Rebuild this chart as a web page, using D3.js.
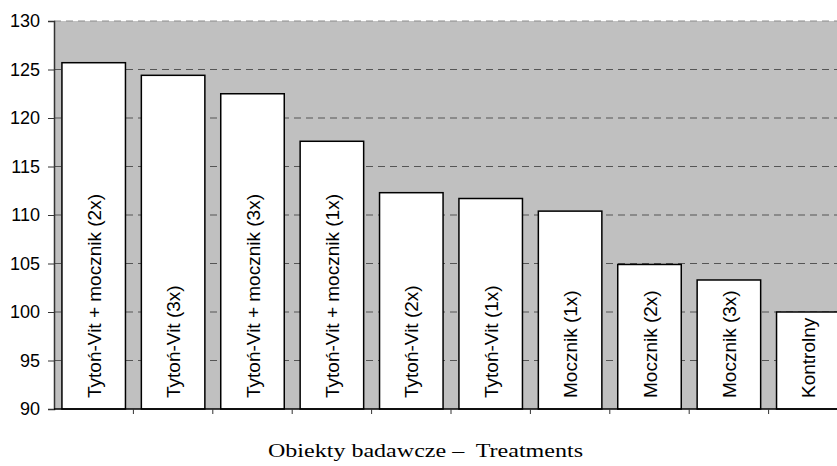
<!DOCTYPE html>
<html lang="pl">
<head>
  <meta charset="UTF-8">
  <title>Obiekty badawcze</title>
  <script src="https://cdn.jsdelivr.net/npm/d3@7"></script>
  <style>
    html, body { margin: 0; padding: 0; background: #fff; }
    svg { display: block; }
  </style>
</head>
<body>
<script>
  const categories = [
    'Tytoń-Vit + mocznik (2x)',
    'Tytoń-Vit (3x)',
    'Tytoń-Vit + mocznik (3x)',
    'Tytoń-Vit + mocznik (1x)',
    'Tytoń-Vit (2x)',
    'Tytoń-Vit (1x)',
    'Mocznik (1x)',
    'Mocznik (2x)',
    'Mocznik (3x)',
    'Kontrolny'
  ]
  const values = [125.7, 124.4, 122.5, 117.6, 112.3, 111.7, 110.4, 104.9, 103.3, 100.0]
  const yTicks = [90, 95, 100, 105, 110, 115, 120, 125, 130]
  const xTitle = 'Obiekty badawcze –  Treatments'

  const width = 837
  const height = 466
  // plot area runs a bit past the right edge, like the original
  const margin = {top: 21, right: -11, bottom: 57, left: 54}

  const x = d3.scaleBand()
    .domain(categories)
    .range([margin.left, width - margin.right])
    .paddingInner(0.2)
    .paddingOuter(0.1)

  const y = d3.scaleLinear()
    .domain([90, 130])
    .range([height - margin.bottom, margin.top])

  const svg = d3.select('body').append('svg')
    .attr('width', width)
    .attr('height', height)
    .attr('viewBox', [0, 0, width, height])

  // grey plot background
  svg.append('rect')
    .attr('x', margin.left)
    .attr('y', y(130))
    .attr('width', width - margin.right - margin.left)
    .attr('height', y(90) - y(130))
    .attr('fill', '#c0c0c0')

  // dashed gridlines
  svg.append('g')
    .selectAll('line')
    .data(yTicks.filter(d => d > 90))
    .join('line')
    .attr('x1', margin.left)
    .attr('x2', width - margin.right)
    .attr('y1', d => y(d))
    .attr('y2', d => y(d))
    .attr('stroke', d => d === 130 ? '#8a8a8a' : '#555')
    .attr('stroke-width', 1)
    .attr('stroke-dasharray', '7,5')

  // bars
  svg.append('g')
    .selectAll('rect')
    .data(categories)
    .join('rect')
    .attr('x', d => x(d))
    .attr('y', (d, i) => y(values[i]))
    .attr('width', x.bandwidth())
    .attr('height', (d, i) => y(90) - y(values[i]))
    .attr('fill', '#fff')
    .attr('stroke', '#000')
    .attr('stroke-width', 1.5)

  // labels inside bars
  svg.append('g')
    .attr('font-family', 'Liberation Sans, Arial, sans-serif')
    .attr('font-size', 19)
    .selectAll('text')
    .data(categories)
    .join('text')
    .attr('transform', d => `translate(${x(d) + x.bandwidth() / 2 + 7},${y(90) - 11}) rotate(-90)`)
    .attr('text-anchor', 'start')
    .text(d => d)

  // y axis
  const yAxis = svg.append('g')
    .attr('transform', `translate(${margin.left},0)`)
    .call(d3.axisLeft(y).tickValues(yTicks).tickSize(6).tickPadding(8))
  yAxis.select('.domain').attr('stroke', '#333').attr('stroke-width', 1.5)
  yAxis.selectAll('.tick line').attr('stroke', '#333')
  yAxis.selectAll('.tick text')
    .attr('font-family', 'Liberation Sans, Arial, sans-serif')
    .attr('font-size', 18)
    .attr('fill', '#000')

  // x axis: ticks at band boundaries
  const bounds = categories.map(d => x(d) - x.step() * x.paddingInner() / 2)
  svg.append('line')
    .attr('x1', margin.left)
    .attr('x2', width - margin.right)
    .attr('y1', y(90))
    .attr('y2', y(90))
    .attr('stroke', '#000')
    .attr('stroke-width', 1.5)
  svg.append('g')
    .selectAll('line')
    .data(bounds.slice(1))
    .join('line')
    .attr('x1', d => d)
    .attr('x2', d => d)
    .attr('y1', y(90))
    .attr('y2', y(90) + 5)
    .attr('stroke', '#333')

  svg.append('text')
    .attr('x', 268)
    .attr('y', 457)
    .attr('font-family', 'Liberation Serif, Times New Roman, serif')
    .attr('font-size', 19.5)
    .attr('textLength', 315)
    .attr('lengthAdjust', 'spacingAndGlyphs')
    .style('white-space', 'pre')
    .text(xTitle)
</script>
</body>
</html>
